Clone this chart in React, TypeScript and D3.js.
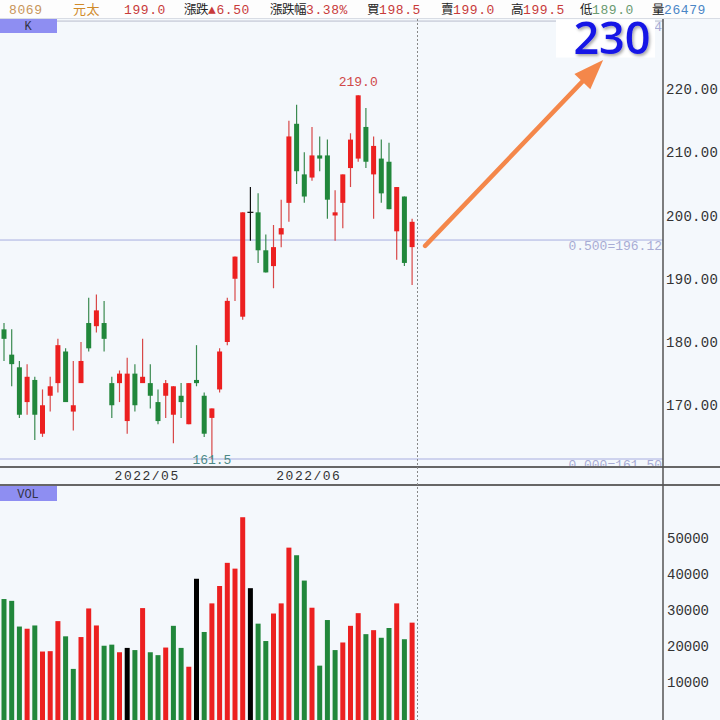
import React from 'react';
import * as d3 from 'd3';

// ---- data ----
const opens = [182.0,178.0,176.0,170.5,174.0,165.5,171.5,173.5,178.5,169.0,173.5,183.0,182.5,183.0,173.5,173.5,167.5,175.0,173.5,173.5,170.5,171.5,168.5,171.5,167.0,174.0,171.5,168.0,172.5,180.0,190.0,184.0,200.5,200.5,194.5,192.0,197.0,202.0,214.5,206.5,206.0,209.5,209.5,200.0,202.0,207.5,209.0,214.0,206.5,209.0,208.5,197.5,203.0,195.0];
const highs = [183.0,182.0,177.0,176.5,174.5,172.5,174.5,180.5,179.0,177.0,180.0,187.0,187.5,186.5,174.5,175.5,177.5,176.5,180.5,176.5,172.5,174.0,173.0,173.5,173.5,179.5,172.0,169.5,179.0,187.0,193.5,200.5,204.5,203.5,197.0,198.5,202.5,215.0,217.5,210.0,214.0,212.5,212.0,204.0,206.5,213.0,219.0,217.0,212.5,212.0,211.5,204.5,203.0,199.5];
const lows = [177.0,173.0,168.0,168.5,164.5,165.0,169.0,172.0,170.5,166.0,173.5,178.5,181.5,178.5,168.0,170.5,165.5,169.0,173.5,169.5,167.0,168.0,164.0,168.0,167.0,173.0,165.0,161.5,172.0,179.5,186.5,183.5,196.0,192.5,191.0,188.5,195.0,199.0,205.0,202.0,205.5,207.0,199.5,196.0,198.0,204.5,208.5,207.5,199.5,202.0,201.0,193.0,192.0,189.0];
const closes = [180.5,176.5,168.5,174.5,168.5,170.0,173.0,179.5,170.5,170.0,177.0,179.0,185.0,180.5,170.0,175.0,175.0,170.0,174.5,171.5,167.5,173.5,173.0,170.5,173.5,173.5,165.5,169.5,178.5,186.5,193.5,200.5,200.5,194.5,191.0,195.0,198.0,212.5,207.0,203.0,209.5,209.0,202.5,200.5,206.5,212.0,219.0,208.5,211.0,203.5,201.0,204.5,192.5,199.0];
const volumes = [33000,32500,25400,24800,25700,18500,18600,26900,22700,13700,22500,30400,25700,20100,20400,18300,19500,18900,30500,18300,17500,19600,25600,19500,14300,38600,23900,31800,36600,43000,41400,55600,36000,26200,21400,29000,31800,47200,45100,38100,30600,14600,27200,18900,21000,25600,29100,23300,24400,22300,25000,31800,21900,26479];
const prevCloseBefore = 181.5;

const priceTicks = [170, 180, 190, 200, 210, 220];
const volTicks = [10000, 20000, 30000, 40000, 50000];
const monthLabels = ['2022/05', '2022/06'];
const monthStartIdx = [18, 39];
const fibLow = 161.5;
const fibHigh = 230.74;
const fibRatios = [0.0, 0.5, 1.0];
const targetPrice = '230';

const headerItems = [
  { label: '', value: '8069', color: '#c8955a' },
  { label: '', value: '元太', color: '#d08a2a' },
  { label: '', value: '199.0', color: '#c83a3a' },
  { label: '漲跌', value: '▲6.50', color: '#c83a3a' },
  { label: '漲跌幅', value: '3.38%', color: '#c83a3a' },
  { label: '買', value: '198.5', color: '#c83a3a' },
  { label: '賣', value: '199.0', color: '#c83a3a' },
  { label: '高', value: '199.5', color: '#c83a3a' },
  { label: '低', value: '189.0', color: '#6a9a70' },
  { label: '量', value: '26479', color: '#4a86c6' },
];
const headerX = [9, 73, 124, 184, 270, 367, 441, 511, 580, 652];

const RED = '#ec2020';
const GREEN = '#21873b';
const BG = '#f4f8fc';
const MONO = '"Liberation Mono", "DejaVu Sans Mono", monospace';

export default function App() {
  const W = 720, H = 720;
  const axisX = 663;
  const x = d3.scaleLinear().domain([0, closes.length - 1]).range([4, 4 + 7.7 * (closes.length - 1)]);
  const y = d3.scaleLinear().domain([200, 220]).range([215.5, 89]);
  const yv = d3.scaleLinear().domain([0, 50000]).range([718.5, 537.5]);
  const bw = 5;

  const candleColor = (i: number) => closes[i] > opens[i] ? RED : closes[i] < opens[i] ? GREEN : '#111';
  const volColor = (i: number) => {
    const pc = i === 0 ? prevCloseBefore : closes[i - 1];
    return closes[i] > pc ? RED : closes[i] < pc ? GREEN : '#000';
  };

  const hiIdx = d3.maxIndex(highs);
  const loIdx = d3.minIndex(lows);
  const last = closes.length - 1;

  // arrow annotation
  const ax0 = x(last) + 13, ay0 = y(195.2);
  const ax1 = x(last) + 191, ay1 = y(224.6);
  const dx = ax1 - ax0, dy = ay1 - ay0, len = Math.hypot(dx, dy);
  const ux = dx / len, uy = dy / len;
  const headL = 30, headW = 11;
  const bx = ax1 - ux * headL, by = ay1 - uy * headL;
  const head = `M${ax1},${ay1} L${bx - uy * headW},${by + ux * headW} L${bx + uy * headW},${by - ux * headW} Z`;

  return (
    <svg width={W} height={H} style={{ position: 'absolute', left: 0, top: 0 }} fontFamily={MONO}>
      <defs>
        <filter id="sh" x="-20%" y="-20%" width="140%" height="140%">
          <feDropShadow dx="1.5" dy="2" stdDeviation="1.5" floodColor="#000" floodOpacity="0.35" />
        </filter>
        <clipPath id="fibclip">
          <rect x={655} y={0} width={10} height={60} />
        </clipPath>
      </defs>
      <rect x={0} y={0} width={W} height={H} fill={BG} />
      <rect x={0} y={0} width={W} height={18} fill="#fdfdfd" />
      <line x1={0} x2={W} y1={18.5} y2={18.5} stroke="#d8dce4" />

      {/* header */}
      {headerItems.map((h, k) => (
        <text key={k} x={headerX[k]} y={14} fontSize={13} letterSpacing={0.6}>
          {h.label && <tspan fill="#222" fontFamily='"Noto Sans CJK TC", sans-serif' fontSize={12.5} letterSpacing={-0.5}>{h.label}</tspan>}
          <tspan fill={h.color} fontFamily={/[0-9]/.test(h.value) ? MONO : '"Noto Sans CJK TC", sans-serif'}>{h.value}</tspan>
        </text>
      ))}

      {/* fib lines */}
      {fibRatios.map((r, k) => {
        const v = fibLow + (fibHigh - fibLow) * r;
        return (
          <g key={k}>
            <line x1={0} x2={axisX} y1={y(v)} y2={y(v)} stroke={r === 1 ? '#b8bccc' : '#a8aee0'} strokeWidth={1} />
            <text x={axisX - 1} y={y(v) + 10} textAnchor="end" fontSize={13} fill="#a8acd4"
              clipPath={r === 1 ? 'url(#fibclip)' : undefined}>
              {`${r.toFixed(3)}=${v.toFixed(2)}`}
            </text>
          </g>
        );
      })}

      {/* K label */}
      <rect x={0} y={19} width={57} height={14} fill="#8e8ef2" />
      <text x={28} y={30} fontSize={12} fill="#334" textAnchor="middle">K</text>

      {/* candles */}
      {closes.map((c, i) => {
        const col = candleColor(i);
        const top = y(Math.max(opens[i], c));
        const bot = y(Math.min(opens[i], c));
        return (
          <g key={i}>
            <line x1={x(i)} x2={x(i)} y1={y(highs[i])} y2={y(lows[i])} stroke={col === RED ? '#d84848' : col === GREEN ? '#3a8a50' : '#111'} strokeWidth={1.2} />
            {col === '#111'
              ? <line x1={x(i) - bw / 2 - 0.5} x2={x(i) + bw / 2 + 0.5} y1={top} y2={top} stroke="#111" strokeWidth={1.2} />
              : <rect x={x(i) - bw / 2} y={top} width={bw} height={Math.max(bot - top, 1.5)} fill={col} />}
          </g>
        );
      })}

      <text x={x(hiIdx)} y={y(highs[hiIdx]) - 9} textAnchor="middle" fontSize={13} fill="#d04848">{highs[hiIdx].toFixed(1)}</text>
      <text x={x(loIdx)} y={y(lows[loIdx]) + 5} textAnchor="middle" fontSize={13} fill="#4d8a86">{lows[loIdx].toFixed(1)}</text>

      {/* date axis band */}
      <rect x={0} y={467} width={W} height={18} fill={BG} />
      <line x1={0} x2={W} y1={467} y2={467} stroke="#666" strokeWidth={2} />
      {monthLabels.map((m, k) => (
        <text key={m} x={x(monthStartIdx[k]) - 28} y={480} fontSize={13} letterSpacing={1.5} fill="#333">{m}</text>
      ))}
      <line x1={0} x2={W} y1={485} y2={485} stroke="#666" strokeWidth={2} />

      {/* VOL label */}
      <rect x={0} y={486} width={57} height={15} fill="#8e8ef2" />
      <text x={28} y={498} fontSize={12} fill="#334" textAnchor="middle">VOL</text>

      {/* volume bars */}
      {volumes.map((v, i) => (
        <rect key={i} x={x(i) - bw / 2} y={yv(v)} width={bw} height={yv(0) - yv(v) + 2} fill={volColor(i)} />
      ))}

      {/* dotted cursor line */}
      <line x1={417.5} x2={417.5} y1={19} y2={H} stroke="#888" strokeDasharray="2,2" />

      {/* right axis */}
      <line x1={axisX} x2={axisX} y1={19} y2={H} stroke="#555" strokeWidth={1.5} />
      {priceTicks.map(t => (
        <text key={t} x={axisX + 3} y={y(t) + 5} fontSize={14} fill="#333" letterSpacing={0.3}>{t.toFixed(2)}</text>
      ))}
      {volTicks.map(t => (
        <text key={t} x={axisX + 4} y={yv(t) + 5} fontSize={14} fill="#333">{t}</text>
      ))}

      {/* annotation */}
      <rect x={556} y={19.5} width={99} height={38} fill="#ffffff" />
      <text x={612} y={54} textAnchor="middle" fontSize={45} fontWeight={600} fontFamily='"Open Sans", sans-serif' fill="#1414e6" filter="url(#sh)">{targetPrice}</text>
      <line x1={ax0} y1={ay0} x2={bx + ux * 2} y2={by + uy * 2} stroke="#f4874a" strokeWidth={4.5} strokeLinecap="round" />
      <path d={head} fill="#f4874a" />
    </svg>
  );
}
